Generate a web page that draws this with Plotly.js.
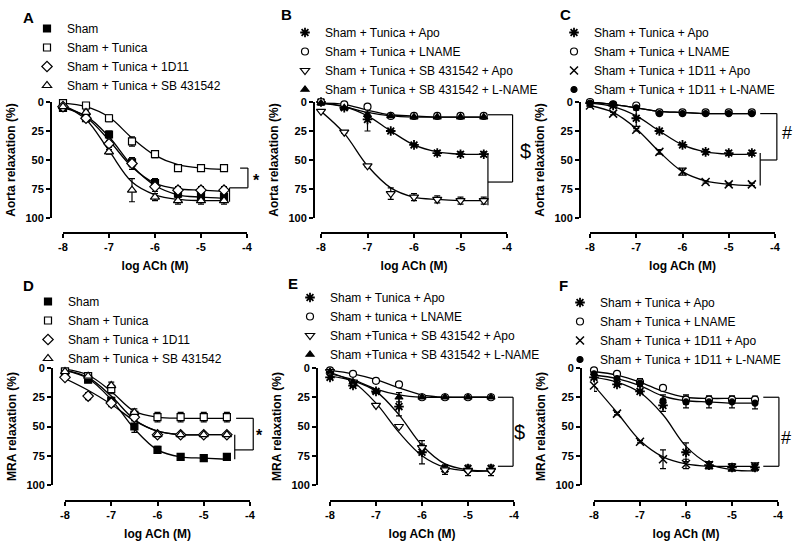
<!DOCTYPE html>
<html>
<head>
<meta charset="utf-8">
<script src="https://cdn.plot.ly/plotly-3.0.1.min.js"></script>
<style>
  html, body { margin: 0; padding: 0; background: #fff; }
  #chart { width: 800px; height: 548px; }
</style>
</head>
<body>
<div id="chart"></div>
<script>
// log [ACh] doses shared by every panel
const doses = [-8, -7.5, -7, -6.5, -6, -5.5, -5, -4.5];
const xTicks = [-8, -7, -6, -5, -4];
const yTicks = [0, 25, 50, 75, 100];

// A - aorta
const aSham = [5, 14, 28, 52, 70, 79, 81, 82];
const aShamSem = [2, 2, 3, 4, 4, 3, 4, 4];
const aShamFit = [5, 12, 30, 55, 72, 80, 82, 83];
const aTun = [1, 3, 14, 34, 45, 57, 57, 57];
const aTunSem = [1, 1, 3, 4, 3, 2, 1, 1];
const aTunFit = [1, 4, 13, 31, 46, 54, 57, 58];
const a1D11 = [4, 14, 36, 53, 73, 76, 76, 76];
const a1D11Sem = [1, 2, 3, 5, 4, 3, 3, 3];
const a1D11Fit = [3, 13, 33, 56, 70, 75, 76, 77];
const aSB = [4, 9, 43, 76, 82, 85, 85, 85];
const aSBSem = [1, 2, 2, 10, 3, 3, 3, 3];
const aSBFit = [3, 15, 42, 69, 80, 84, 85, 85];

// B - aorta, SB 431542
const bApo = [0, 5, 15, 25, 37, 44, 45, 45];
const bApoSem = [1, 1, 10, 1, 1, 2, 2, 2];
const bApoFit = [1, 4, 12, 25, 37, 43, 45, 45];
const bLn = [0, 2, 4, 12, 12, 12, 12, 12];
const bLnSem = [1, 1, 1, 1, 1, 1, 1, 1];
const bLnFit = [1, 2, 7, 11, 12, 13, 13, 13];
const bSbApo = [8, 26, 55, 79, 82, 84, 85, 85];
const bSbApoSem = [1, 1, 1, 5, 3, 3, 3, 3];
const bSbApoFit = [8, 27, 55, 74, 82, 84, 85, 85];
const bSbLn = [1, 5, 11, 12, 13, 13, 13, 13];
const bSbLnSem = [1, 1, 2, 1, 1, 1, 1, 1];
const bSbLnFit = [1, 4, 9, 12, 13, 13, 13, 13];

// C - aorta, 1D11
const cApo = [1, 3, 14, 25, 37, 43, 44, 44];
const cApoSem = [1, 1, 7, 1, 1, 2, 2, 2];
const cApoFit = [1, 4, 12, 25, 37, 43, 45, 45];
const cLn = [0, 2, 3, 9, 9, 9, 9, 9];
const cLnSem = [1, 1, 1, 1, 1, 1, 1, 1];
const cLnFit = [0, 2, 5, 8, 9, 10, 10, 10];
const c1D11Apo = [3, 10, 24, 43, 60, 69, 71, 71];
const c1D11ApoSem = [1, 1, 1, 2, 3, 1, 1, 1];
const c1D11ApoFit = [3, 9, 23, 43, 60, 68, 71, 72];
const c1D11Ln = [1, 2, 5, 10, 10, 10, 10, 10];
const c1D11LnSem = [1, 1, 1, 1, 1, 1, 1, 1];
const c1D11LnFit = [0, 2, 5, 8, 9, 10, 10, 10];

// D - MRA
const dSham = [3, 10, 28, 50, 70, 76, 77, 76];
const dShamSem = [1, 2, 3, 5, 3, 1, 1, 1];
const dShamFit = [2, 9, 27, 52, 70, 76, 77, 78];
const dTun = [3, 7, 18, 40, 42, 42, 42, 42];
const dTunSem = [1, 2, 4, 3, 4, 4, 4, 4];
const dTunFit = [1, 6, 20, 37, 42, 43, 43, 43];
const d1D11 = [8, 24, 30, 42, 57, 57, 57, 57];
const d1D11Sem = [2, 3, 3, 3, 2, 1, 1, 1];
const d1D11Fit = [9, 19, 31, 45, 54, 57, 57, 57];
const dSB = [3, 7, 15, 38, 57, 57, 57, 57];
const dSBSem = [1, 2, 3, 3, 2, 1, 1, 1];
const dSBFit = [2, 8, 24, 44, 54, 57, 57, 57];

// E - MRA, SB 431542
const eApo = [8, 15, 20, 33, 72, 86, 86, 86];
const eApoSem = [1, 1, 1, 8, 10, 3, 3, 3];
const eApoFit = [7, 11, 20, 40, 66, 82, 87, 88];
const eLn = [2, 5, 11, 14, 25, 25, 25, 25];
const eLnSem = [1, 1, 1, 1, 1, 1, 1, 1];
const eLnFit = [2, 5, 10, 17, 23, 25, 25, 25];
const eSbApo = [3, 12, 32, 50, 68, 87, 88, 88];
const eSbApoSem = [1, 1, 1, 1, 3, 4, 4, 4];
const eSbApoFit = [4, 12, 30, 55, 75, 85, 88, 88];
const eSbLn = [3, 12, 20, 25, 25, 25, 25, 25];
const eSbLnSem = [1, 1, 1, 4, 1, 1, 1, 1];
const eSbLnFit = [5, 10, 18, 23, 25, 25, 25, 25];

// F - MRA, 1D11
const fApo = [8, 14, 20, 32, 72, 83, 85, 85];
const fApoSem = [1, 1, 1, 5, 8, 3, 3, 3];
const fApoFit = [8, 12, 21, 40, 67, 82, 87, 88];
const fLn = [2, 5, 12, 17, 27, 27, 27, 27];
const fLnSem = [1, 1, 3, 1, 4, 3, 3, 3];
const fLnFit = [3, 6, 12, 20, 25, 26, 26, 26];
const f1D11Apo = [15, 39, 63, 78, 82, 83, 85, 84];
const f1D11ApoSem = [5, 1, 1, 8, 4, 3, 3, 3];
const f1D11ApoFit = [15, 38, 62, 76, 82, 84, 84, 84];
const f1D11Ln = [5, 9, 13, 28, 29, 29, 29, 30];
const f1D11LnSem = [1, 1, 3, 5, 5, 5, 5, 5];
const f1D11LnFit = [6, 9, 15, 24, 28, 29, 30, 30];

const W = 800, H = 548;
const FONT = 'Arial, "Liberation Sans", sans-serif';
const edge = { color: '#000', width: 1.2 };

const MK = {
  fsq: { symbol: 'square', size: 7, color: '#000', line: edge },
  osq: { symbol: 'square', size: 7, color: '#fff', line: edge },
  odi: { symbol: 'diamond', size: 8, color: '#fff', line: edge },
  otu: { symbol: 'triangle-up', size: 8, color: '#fff', line: edge },
  ast: { symbol: 'asterisk-open', size: 8, color: '#000', line: { color: '#000', width: 1.8 } },
  oci: { symbol: 'circle', size: 7, color: '#fff', line: edge },
  otd: { symbol: 'triangle-down', size: 8, color: '#fff', line: edge },
  ftu: { symbol: 'triangle-up', size: 7, color: '#000', line: edge },
  xx: { symbol: 'x-thin-open', size: 8, color: '#000', line: { color: '#000', width: 1.5 } },
  fci: { symbol: 'circle', size: 6, color: '#000', line: edge },
};

// pixel boxes: x of -8 and -4, y-axis x, y of 0 and 100, x-axis y
const panels = [
  {
    key: 'A', box: { x8: 63, x4: 247, yax: 51, top: 102, bot: 218, xline: 233 },
    letter: [28, 17], leg: [27, 14], ytitle: 'Aorta relaxation (%)',
    series: [
      { name: 'Sham', y: aSham, sem: aShamSem, fit: aShamFit, mk: MK.fsq },
      { name: 'Sham + Tunica', y: aTun, sem: aTunSem, fit: aTunFit, mk: MK.osq },
      { name: 'Sham + Tunica + 1D11', y: a1D11, sem: a1D11Sem, fit: a1D11Fit, mk: MK.odi },
      { name: 'Sham + Tunica + SB 431542', y: aSB, sem: aSBSem, fit: aSBFit, mk: MK.otu },
    ],
    vlines: [[-4.38, 74, 86]],
    bracket: { xr: -3.98, top: [-4.15, 57], bot: [-4.38, 74] },
    mark: { text: '<b>*</b>', x: -3.8, y: 68, size: 16 },
  },
  {
    key: 'B', box: { x8: 321, x4: 507, yax: 314, top: 102, bot: 218, xline: 233 },
    letter: [286, 15], leg: [285, 18], ytitle: 'Aorta relaxation (%)',
    series: [
      { name: 'Sham + Tunica + Apo', y: bApo, sem: bApoSem, fit: bApoFit, mk: MK.ast },
      { name: 'Sham + Tunica + LNAME', y: bLn, sem: bLnSem, fit: bLnFit, mk: MK.oci },
      { name: 'Sham + Tunica + SB 431542 + Apo', y: bSbApo, sem: bSbApoSem, fit: bSbApoFit, mk: MK.otd },
      { name: 'Sham + Tunica + SB 431542 + L-NAME', y: bSbLn, sem: bSbLnSem, fit: bSbLnFit, mk: MK.ftu },
    ],
    vlines: [[-4.41, 44, 89]],
    bracket: { xr: -3.88, top: [-4.41, 11], bot: [-4.41, 69] },
    mark: { text: '$', x: -3.6, y: 42, size: 20 },
  },
  {
    key: 'C', box: { x8: 590, x4: 775, yax: 580, top: 102, bot: 218, xline: 233 },
    letter: [565, 15], leg: [554, 18], ytitle: 'Aorta relaxation (%)',
    series: [
      { name: 'Sham + Tunica + Apo', y: cApo, sem: cApoSem, fit: cApoFit, mk: MK.ast },
      { name: 'Sham + Tunica + LNAME', y: cLn, sem: cLnSem, fit: cLnFit, mk: MK.oci },
      { name: 'Sham + Tunica + 1D11 + Apo', y: c1D11Apo, sem: c1D11ApoSem, fit: c1D11ApoFit, mk: MK.xx },
      { name: 'Sham + Tunica + 1D11 + L-NAME', y: c1D11Ln, sem: c1D11LnSem, fit: c1D11LnFit, mk: MK.fci },
    ],
    vlines: [[-4.32, 44, 72]],
    bracket: { xr: -3.96, top: [-4.32, 10], bot: [-4.32, 50] },
    mark: { text: '#', x: -3.75, y: 27, size: 18 },
  },
  {
    key: 'D', box: { x8: 65, x4: 250, yax: 52, top: 368, bot: 485, xline: 501 },
    letter: [28, 285], leg: [28, 287], ytitle: 'MRA relaxation (%)',
    series: [
      { name: 'Sham', y: dSham, sem: dShamSem, fit: dShamFit, mk: MK.fsq },
      { name: 'Sham + Tunica', y: dTun, sem: dTunSem, fit: dTunFit, mk: MK.osq },
      { name: 'Sham + Tunica + 1D11', y: d1D11, sem: d1D11Sem, fit: d1D11Fit, mk: MK.odi },
      { name: 'Sham + Tunica + SB 431542', y: dSB, sem: dSBSem, fit: dSBFit, mk: MK.otu },
    ],
    vlines: [[-4.33, 57, 78]],
    bracket: { xr: -3.93, top: [-4.3, 43], bot: [-4.33, 70] },
    mark: { text: '<b>*</b>', x: -3.8, y: 58, size: 16 },
  },
  {
    key: 'E', box: { x8: 330, x4: 514, yax: 317, top: 368, bot: 485, xline: 501 },
    letter: [293, 283], leg: [290, 283], ytitle: 'MRA relaxation (%)',
    series: [
      { name: 'Sham + Tunica + Apo', y: eApo, sem: eApoSem, fit: eApoFit, mk: MK.ast },
      { name: 'Sham + tunica + LNAME', y: eLn, sem: eLnSem, fit: eLnFit, mk: MK.oci },
      { name: 'Sham +Tunica + SB 431542 + Apo', y: eSbApo, sem: eSbApoSem, fit: eSbApoFit, mk: MK.otd },
      { name: 'Sham +Tunica + SB 431542 + L-NAME', y: eSbLn, sem: eSbLnSem, fit: eSbLnFit, mk: MK.ftu },
    ],
    vlines: [],
    bracket: { xr: -4.02, top: [-4.35, 25], bot: [-4.35, 84] },
    mark: { text: '$', x: -3.88, y: 55, size: 20 },
  },
  {
    key: 'F', box: { x8: 594, x4: 778, yax: 581, top: 368, bot: 485, xline: 501 },
    letter: [563, 285], leg: [560, 288], ytitle: 'MRA relaxation (%)',
    series: [
      { name: 'Sham + Tunica + Apo', y: fApo, sem: fApoSem, fit: fApoFit, mk: MK.ast },
      { name: 'Sham + Tunica + LNAME', y: fLn, sem: fLnSem, fit: fLnFit, mk: MK.oci },
      { name: 'Sham + Tunica + 1D11 + Apo', y: f1D11Apo, sem: f1D11ApoSem, fit: f1D11ApoFit, mk: MK.xx },
      { name: 'Sham + Tunica + 1D11 + L-NAME', y: f1D11Ln, sem: f1D11LnSem, fit: f1D11LnFit, mk: MK.fci },
    ],
    vlines: [],
    bracket: { xr: -3.98, top: [-4.32, 25], bot: [-4.32, 84] },
    mark: { text: '#', x: -3.82, y: 60, size: 18 },
  },
];

// data units -> paper fractions, for the significance brackets
function toPaper(b, x, y) {
  const px = b.x8 + (x + 8) / 4 * (b.x4 - b.x8);
  const py = b.top + y / 100 * (b.bot - b.top);
  return [px / W, 1 - py / H];
}

function seg(b, x0, y0, x1, y1) {
  const p0 = toPaper(b, x0, y0), p1 = toPaper(b, x1, y1);
  return {
    type: 'line', xref: 'paper', yref: 'paper',
    x0: p0[0], y0: p0[1], x1: p1[0], y1: p1[1],
    line: { color: '#000', width: 1.2 },
  };
}

const traces = [];
const shapes = [];
const annotations = [];
const layout = {
  width: W, height: H,
  margin: { l: 0, r: 0, t: 0, b: 0 },
  paper_bgcolor: '#fff', plot_bgcolor: 'rgba(0,0,0,0)',
  font: { family: FONT, color: '#000', size: 12 },
  showlegend: true,
  shapes, annotations,
};

const tickFont = { family: FONT, size: 11, weight: 'bold', color: '#000' };
const titleFont = { family: FONT, size: 12, weight: 'bold', color: '#000' };

panels.forEach((p, i) => {
  const n = i + 1;
  const sfx = n === 1 ? '' : String(n);
  const xref = 'x' + sfx, yref = 'y' + sfx;
  const legId = 'legend' + sfx;
  const b = p.box;

  layout['xaxis' + sfx] = {
    domain: [b.x8 / W, b.x4 / W], range: [-8, -4],
    anchor: 'free', position: 1 - b.xline / H,
    tickvals: xTicks, ticktext: xTicks.map(String),
    ticks: 'outside', ticklen: 4, tickwidth: 1.5, tickcolor: '#000',
    showline: true, linewidth: 2, linecolor: '#000',
    showgrid: false, zeroline: false, fixedrange: true,
    tickfont: tickFont,
    title: { text: 'log ACh (M)', font: titleFont, standoff: 8 },
  };
  layout['yaxis' + sfx] = {
    domain: [1 - b.bot / H, 1 - b.top / H], range: [100, 0],
    anchor: 'free', position: b.yax / W,
    tickvals: yTicks,
    ticks: 'outside', ticklen: 4, tickwidth: 1.5, tickcolor: '#000',
    showline: true, linewidth: 2, linecolor: '#000',
    showgrid: false, zeroline: false, fixedrange: true,
    tickfont: tickFont,
    title: { text: p.ytitle, font: titleFont, standoff: 6 },
  };
  layout[legId] = {
    x: p.leg[0] / W, y: 1 - p.leg[1] / H, xanchor: 'left', yanchor: 'top',
    bgcolor: 'rgba(0,0,0,0)', borderwidth: 0,
    font: { family: FONT, size: 12, color: '#000' },
    tracegroupgap: 0, itemclick: false, itemdoubleclick: false,
  };

  // fitted curves first, then SEM bars, then the symbols on top
  p.series.forEach((s) => {
    traces.push({
      x: doses, y: s.fit, xaxis: xref, yaxis: yref,
      mode: 'lines', line: { color: '#000', width: 1.3, shape: 'spline', smoothing: 1 },
      showlegend: false, hoverinfo: 'skip',
    });
  });
  p.series.forEach((s) => {
    traces.push({
      x: doses, y: s.y, xaxis: xref, yaxis: yref,
      mode: 'markers', marker: { size: 2, color: 'rgba(0,0,0,0)' },
      error_y: { type: 'data', array: s.sem, visible: true, color: '#000', thickness: 1.2, width: 3 },
      showlegend: false, hoverinfo: 'skip', cliponaxis: false,
    });
  });
  p.series.forEach((s) => {
    traces.push({
      x: doses, y: s.y, xaxis: xref, yaxis: yref, name: s.name,
      mode: 'markers', marker: s.mk, legend: legId, cliponaxis: false,
      hovertemplate: '%{x}: %{y}%<extra>' + s.name + '</extra>',
    });
  });

  p.vlines.forEach(([x, y0, y1]) => shapes.push(seg(b, x, y0, x, y1)));
  const br = p.bracket;
  shapes.push(seg(b, br.top[0], br.top[1], br.xr, br.top[1]));
  shapes.push(seg(b, br.xr, br.top[1], br.xr, br.bot[1]));
  shapes.push(seg(b, br.xr, br.bot[1], br.bot[0], br.bot[1]));

  const mp = toPaper(b, p.mark.x, p.mark.y);
  annotations.push({
    xref: 'paper', yref: 'paper', x: mp[0], y: mp[1],
    xanchor: 'center', yanchor: 'middle', showarrow: false,
    text: p.mark.text, font: { family: FONT, size: p.mark.size, color: '#000' },
  });
  annotations.push({
    xref: 'paper', yref: 'paper', x: p.letter[0] / W, y: 1 - p.letter[1] / H,
    xanchor: 'center', yanchor: 'middle', showarrow: false,
    text: '<b>' + p.key + '</b>', font: { family: FONT, size: 15, color: '#000' },
  });
});

Plotly.newPlot('chart', traces, layout, { displayModeBar: false, responsive: false });
</script>
</body>
</html>
